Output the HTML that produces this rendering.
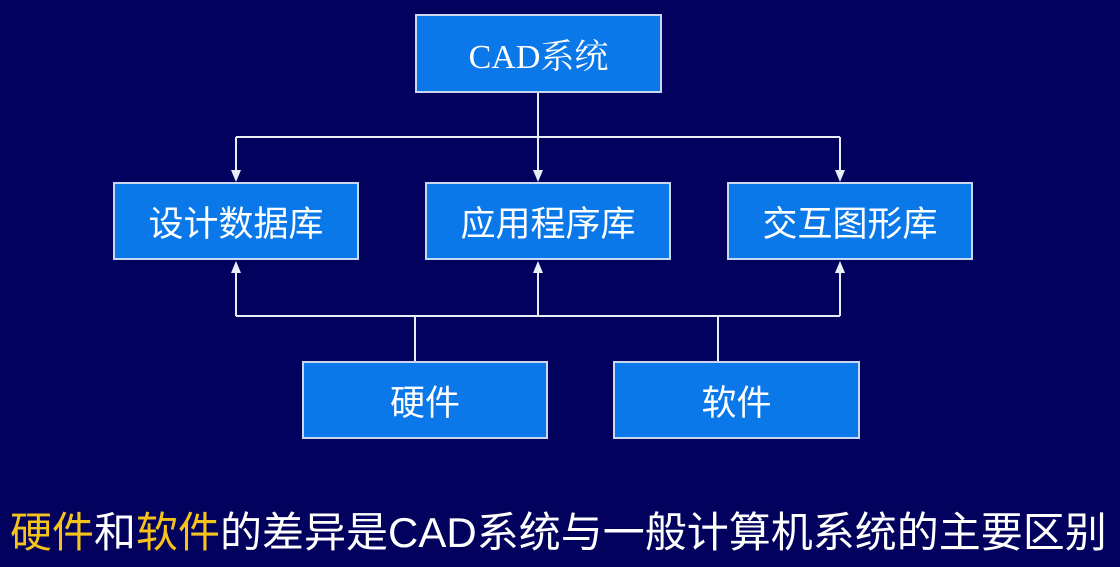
<!DOCTYPE html>
<html><head><meta charset="utf-8"><style>
html,body{margin:0;padding:0;}
body{width:1120px;height:567px;background:#02015e;position:relative;overflow:hidden;font-family:"Liberation Sans","Noto Sans CJK SC",sans-serif;}
.b{position:absolute;background:#0a78e8;border:2px solid #c9d8f0;box-sizing:border-box;color:#fff;font-size:35px;display:flex;align-items:center;justify-content:center;}
.t{position:absolute;left:10px;top:499px;font-size:42px;color:#fff;white-space:nowrap;}
.y{color:#f6c21c;}
</style></head><body>
<svg width="1120" height="567" style="position:absolute;left:0;top:0">
<g stroke="#e8eef8" stroke-width="2" fill="none">
<path d="M538 93V175M236 137H840M236 137V175M840 137V175"/>
<path d="M236 316H840M236 316V268M538 316V268M840 316V268M415 316V361M718 316V361"/>
</g>
<g fill="#e8eef8">
<path d="M231 170L241 170L236 182Z"/><path d="M533 170L543 170L538 182Z"/><path d="M835 170L845 170L840 182Z"/>
<path d="M231 273L241 273L236 261Z"/><path d="M533 273L543 273L538 261Z"/><path d="M835 273L845 273L840 261Z"/>
</g>
</svg>
<div class="b" style="left:415px;top:14px;width:247px;height:79px;font-size:34px;font-family:'Liberation Serif','Noto Serif CJK SC',serif;">CAD系统</div>
<div class="b" style="left:113px;top:182px;width:246px;height:78px;">设计数据库</div>
<div class="b" style="left:425px;top:182px;width:246px;height:78px;">应用程序库</div>
<div class="b" style="left:727px;top:182px;width:246px;height:78px;">交互图形库</div>
<div class="b" style="left:302px;top:361px;width:246px;height:78px;">硬件</div>
<div class="b" style="left:613px;top:361px;width:247px;height:78px;">软件</div>
<div class="t"><span class="y">硬件</span>和<span class="y">软件</span>的差异是CAD系统与一般计算机系统的主要区别</div>
</body></html>
